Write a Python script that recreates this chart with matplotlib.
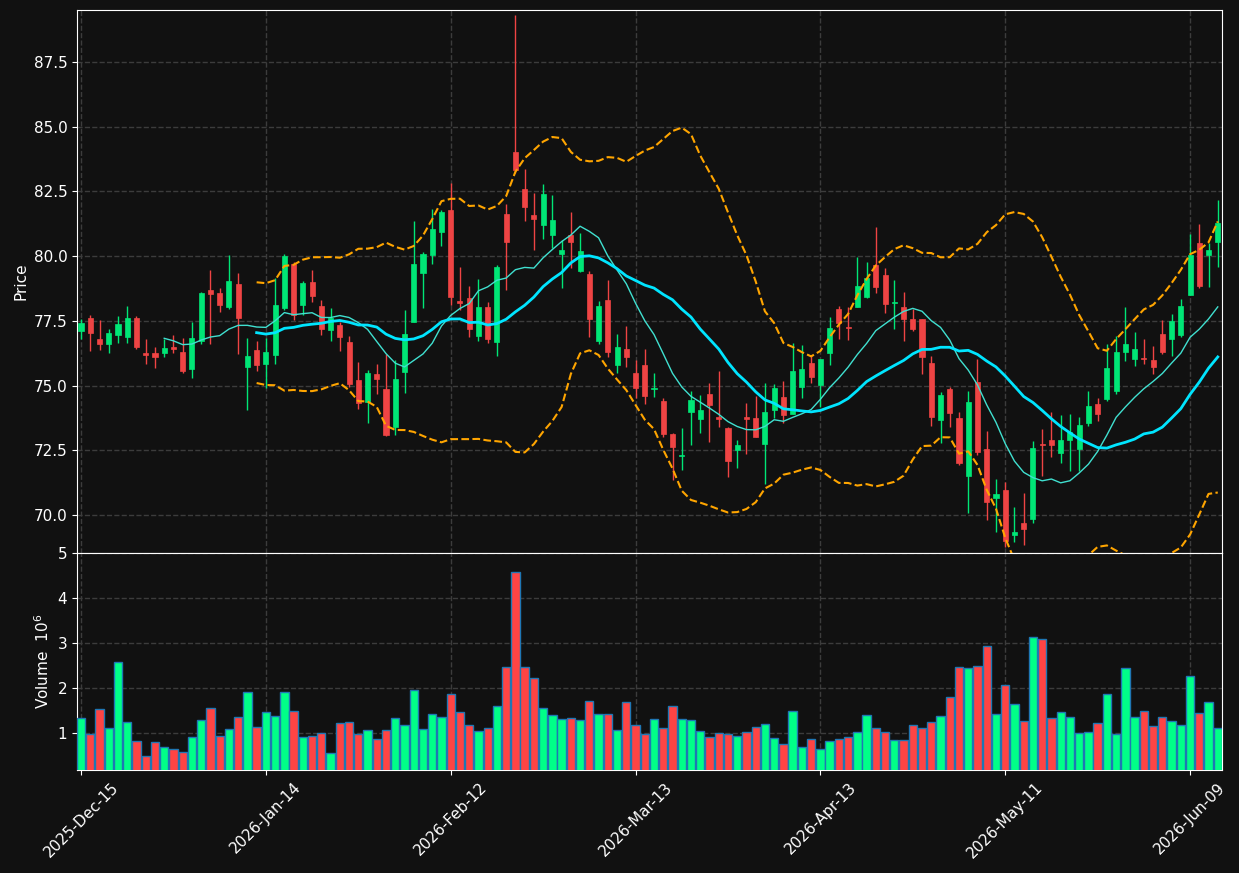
import numpy as np
import pandas as pd
import matplotlib
matplotlib.use("Agg")
import matplotlib.pyplot as plt

# trading days (NYSE holidays removed)
holidays = ["2025-12-25", "2026-01-01", "2026-01-19", "2026-02-16", "2026-04-03", "2026-05-25"]
dates = pd.bdate_range("2025-12-15", "2026-06-12").drop(pd.to_datetime(holidays))

opens = [77.11, 77.60, 76.79, 76.60, 76.95, 76.87, 77.60, 76.21, 76.25, 76.26,
         76.45, 76.29, 75.64, 76.73, 78.69, 78.57, 78.04, 78.92, 75.72, 76.37,
         75.84, 76.19, 78.00, 79.68, 78.11, 79.00, 78.07, 77.15, 77.33, 76.68,
         75.23, 74.35, 75.45, 74.88, 73.38, 75.51, 77.45, 79.35, 80.03, 80.94,
         81.78, 78.25, 78.37, 76.91, 78.02, 76.67, 81.62, 84.03, 82.59, 81.58,
         81.21, 80.82, 80.10, 80.81, 79.42, 79.30, 76.74, 78.30, 75.80, 76.40,
         75.50, 75.80, 74.85, 74.42, 73.13, 72.28, 73.97, 73.70, 74.68, 73.80,
         73.34, 72.51, 73.80, 73.73, 72.73, 74.05, 74.54, 73.91, 74.95, 75.87,
         75.01, 76.27, 77.96, 77.26, 78.05, 78.44, 79.65, 79.26, 78.17, 78.04,
         77.57, 77.57, 75.87, 73.68, 74.85, 73.75, 71.49, 75.15, 72.55, 70.65,
         70.98, 69.21, 69.70, 69.83, 72.74, 72.91, 72.38, 72.90, 72.54, 73.55,
         74.27, 74.48, 74.79, 76.31, 76.03, 76.06, 75.97, 76.98, 76.80, 76.94,
         78.51, 80.50, 80.06, 80.56]
highs = [77.59, 77.74, 77.53, 77.18, 77.67, 78.09, 77.67, 76.79, 76.48, 76.78,
         76.97, 76.82, 77.44, 78.60, 79.45, 78.75, 80.03, 79.33, 76.82, 76.74,
         76.82, 79.14, 80.10, 79.78, 79.03, 79.46, 78.30, 77.98, 77.44, 76.91,
         75.89, 75.60, 75.83, 76.22, 75.97, 77.90, 81.35, 80.16, 81.84, 81.78,
         82.81, 79.58, 78.86, 79.13, 78.24, 79.65, 82.00, 89.30, 83.35, 82.45,
         82.78, 82.35, 80.61, 81.70, 80.91, 79.41, 78.25, 79.06, 77.00, 77.30,
         76.00, 76.40, 75.49, 74.53, 73.17, 73.37, 74.78, 74.64, 75.10, 75.58,
         73.40, 72.90, 74.33, 74.59, 75.10, 75.07, 75.16, 76.66, 76.55, 76.18,
         76.02, 77.64, 78.07, 78.05, 79.95, 79.79, 81.12, 79.53, 79.07, 78.60,
         77.96, 77.57, 76.14, 74.75, 74.94, 73.97, 74.77, 76.03, 73.26, 71.37,
         71.26, 70.30, 70.83, 72.87, 73.32, 73.97, 73.87, 73.90, 73.80, 74.80,
         74.53, 76.62, 76.93, 78.04, 77.05, 76.78, 76.54, 77.55, 77.78, 78.33,
         80.86, 81.23, 80.52, 82.18]
lows = [76.79, 76.34, 76.39, 76.26, 76.65, 76.65, 76.42, 75.85, 75.66, 76.11,
        76.27, 75.49, 75.31, 76.60, 76.61, 77.85, 77.94, 76.21, 74.07, 75.57,
        74.92, 75.85, 77.90, 77.55, 77.72, 78.23, 76.97, 76.73, 76.35, 74.95,
        74.11, 73.57, 74.67, 73.06, 73.09, 74.70, 77.45, 78.00, 79.71, 80.39,
        78.10, 77.90, 76.87, 76.74, 76.63, 76.16, 78.68, 83.20, 81.36, 80.25,
        80.68, 80.33, 78.78, 79.55, 79.39, 76.89, 76.60, 76.10, 75.50, 75.70,
        74.50, 74.30, 74.55, 73.00, 71.35, 71.74, 72.69, 73.16, 72.82, 73.39,
        71.45, 71.82, 72.36, 73.00, 71.20, 73.73, 73.54, 73.90, 74.50, 75.10,
        74.17, 75.81, 76.78, 76.76, 78.05, 78.40, 78.57, 77.79, 77.17, 76.74,
        77.12, 75.43, 73.45, 72.78, 73.39, 71.91, 70.06, 72.30, 69.81, 69.33,
        68.75, 68.94, 68.85, 69.69, 71.49, 72.23, 72.00, 71.70, 71.70, 73.44,
        73.62, 74.40, 74.68, 75.94, 75.74, 75.85, 75.46, 76.21, 76.13, 76.88,
        78.50, 78.78, 78.79, 79.59]
closes = [77.40, 77.04, 76.60, 77.02, 77.37, 77.60, 76.48, 76.19, 76.11, 76.44,
          76.42, 75.57, 76.83, 78.57, 78.54, 78.12, 79.02, 77.62, 76.13, 75.79,
          76.29, 78.11, 80.00, 77.74, 78.96, 78.47, 77.19, 77.60, 76.88, 75.05,
          74.33, 75.50, 75.27, 73.09, 75.27, 77.00, 79.71, 80.10, 81.03, 81.70,
          78.42, 78.18, 77.18, 78.02, 76.78, 79.57, 80.55, 83.33, 81.91, 81.44,
          82.40, 81.39, 80.23, 80.55, 80.19, 77.58, 78.08, 76.30, 76.50, 76.10,
          74.90, 74.60, 74.90, 73.11, 72.64, 72.32, 74.45, 74.04, 74.23, 73.70,
          72.07, 72.71, 73.70, 73.03, 73.96, 74.89, 73.85, 75.55, 75.63, 75.34,
          76.02, 77.22, 77.43, 77.21, 78.85, 79.16, 78.82, 78.14, 78.22, 77.56,
          77.20, 76.11, 73.79, 74.63, 73.93, 72.00, 74.38, 72.42, 70.49, 70.82,
          68.98, 69.35, 69.45, 72.60, 72.69, 72.69, 72.91, 73.22, 73.48, 74.22,
          73.90, 75.69, 76.31, 76.60, 76.40, 76.03, 75.72, 76.30, 77.49, 78.07,
          80.03, 78.84, 80.24, 81.27]
# volume in millions of shares
volumes = [1.34, 0.98, 1.54, 1.11, 2.58, 1.25, 0.82, 0.50, 0.80, 0.68,
           0.64, 0.59, 0.91, 1.29, 1.56, 0.93, 1.09, 1.36, 1.92, 1.14,
           1.47, 1.38, 1.92, 1.50, 0.91, 0.93, 1.00, 0.55, 1.23, 1.25,
           0.98, 1.07, 0.86, 1.07, 1.34, 1.18, 1.95, 1.09, 1.43, 1.36,
           1.86, 1.47, 1.18, 1.05, 1.11, 1.61, 2.46, 4.58, 2.46, 2.22,
           1.56, 1.41, 1.32, 1.34, 1.29, 1.72, 1.43, 1.43, 1.07, 1.70,
           1.18, 0.98, 1.32, 1.11, 1.61, 1.32, 1.29, 1.05, 0.91, 1.00,
           0.98, 0.93, 1.02, 1.14, 1.20, 0.89, 0.75, 1.50, 0.68, 0.86,
           0.64, 0.82, 0.86, 0.91, 1.02, 1.41, 1.11, 1.02, 0.84, 0.84,
           1.18, 1.11, 1.25, 1.38, 1.79, 2.46, 2.44, 2.49, 2.94, 1.43,
           2.06, 1.65, 1.27, 3.14, 3.09, 1.34, 1.47, 1.36, 1.00, 1.02,
           1.23, 1.86, 0.98, 2.44, 1.36, 1.50, 1.16, 1.36, 1.27, 1.18,
           2.26, 1.45, 1.70, 1.11]

df = pd.DataFrame({"Open": opens, "High": highs, "Low": lows, "Close": closes,
                   "Volume": volumes}, index=dates)

# moving averages and bollinger bands
ma10 = df["Close"].rolling(10).mean()
ma20 = df["Close"].rolling(20).mean()
std20 = df["Close"].rolling(20).std()
upper = ma20 + 2 * std20
lower = ma20 - 2 * std20

BG = "#111111"
UP = "#00e676"
DOWN = "#ef4444"
UP_VOL = "#00ff88"
DOWN_VOL = "#ff4444"
GRID = "#3c3c3c"

fig = plt.figure(figsize=(12.39, 8.73), dpi=100, facecolor=BG)
ax = fig.add_axes([0.0622, 0.3666, 0.9241, 0.6219])
axv = fig.add_axes([0.0622, 0.118, 0.9241, 0.2486], sharex=ax)

x = np.arange(len(df))
up = df["Close"] >= df["Open"]
colors = np.where(up, UP, DOWN)
vol_colors = np.where(up, UP_VOL, DOWN_VOL)

body_lo = np.minimum(df["Open"], df["Close"])
body_h = np.maximum((df["Close"] - df["Open"]).abs(), 0.05)

ax.vlines(x, df["Low"], df["High"], colors=colors, linewidth=1, zorder=2)
ax.bar(x, body_h, bottom=body_lo, width=0.55, color=colors, edgecolor=colors,
       linewidth=0.5, zorder=3)

ax.plot(x, ma10, color="#40e0d0", linewidth=1, zorder=4)
ax.plot(x, ma20, color="#00e5ff", linewidth=2, zorder=4)
ax.plot(x, upper, color="#ffa500", linewidth=1.5, linestyle="--", zorder=4)
ax.plot(x, lower, color="#ffa500", linewidth=1.5, linestyle="--", zorder=4)

axv.bar(x, df["Volume"], width=0.9, color=vol_colors, edgecolor="#1f77b4",
        linewidth=1, zorder=3)

tick_idx = x[::20]
tick_labels = [d.strftime("%Y-%b-%d") for d in df.index[::20]]

for a in (ax, axv):
    a.set_facecolor(BG)
    a.grid(True, color=GRID, linestyle="--", linewidth=1)
    a.set_axisbelow(True)
    for s in a.spines.values():
        s.set_color("white")
    a.tick_params(colors="white", labelsize=11)

ax.set_xlim(-0.43, 123.46)
ax.set_ylim(68.53, 89.51)
ax.set_yticks([70.0, 72.5, 75.0, 77.5, 80.0, 82.5, 85.0, 87.5])
ax.set_yticklabels([f"{v:.1f}" for v in [70.0, 72.5, 75.0, 77.5, 80.0, 82.5, 85.0, 87.5]])
ax.set_ylabel("Price", color="white", fontsize=11)
ax.tick_params(axis="x", labelbottom=False)

axv.set_ylim(0.18, 5.0)
axv.set_yticks([1, 2, 3, 4, 5])
axv.set_ylabel("Volume  $10^{6}$", color="white", fontsize=11)
axv.set_xticks(tick_idx)
axv.set_xticklabels(tick_labels, rotation=45, fontsize=11)

fig.savefig("out.png", dpi=100, facecolor=BG)
